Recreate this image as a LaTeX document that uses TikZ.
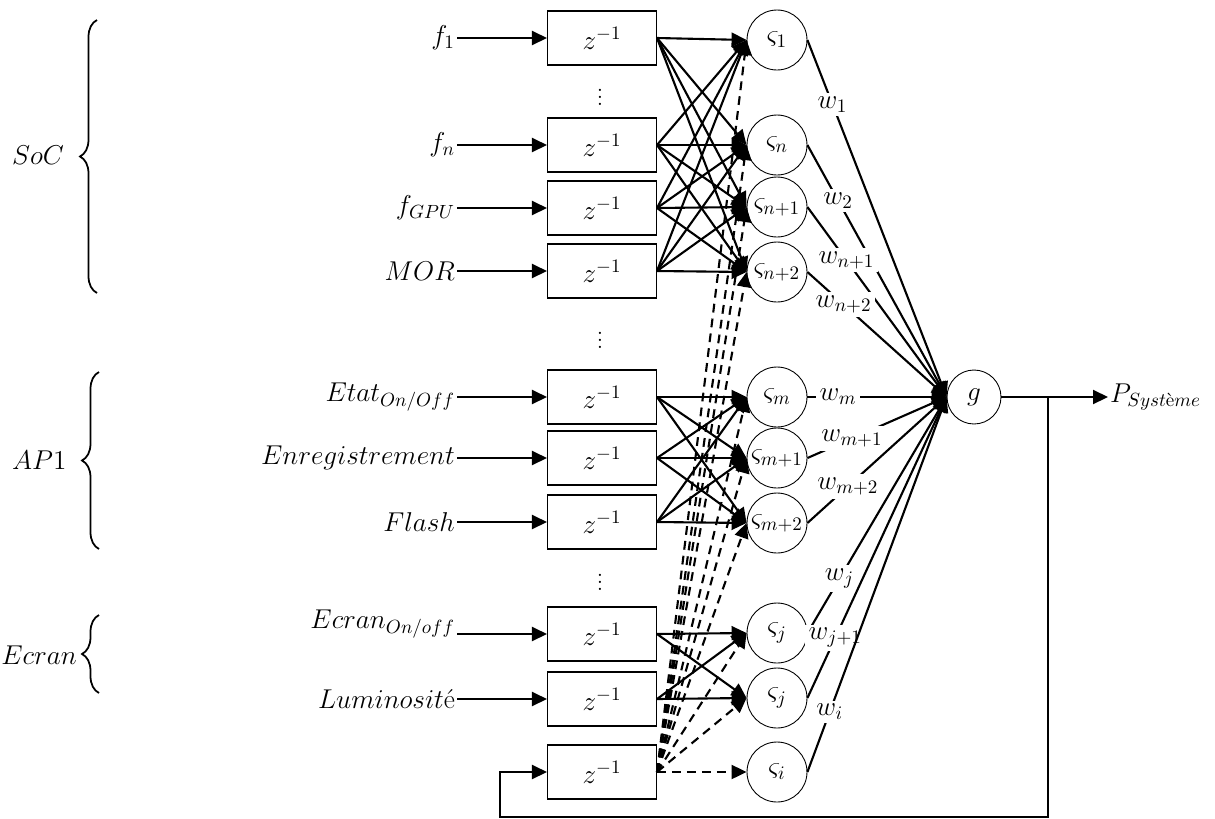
\RequirePackage{fix-cm}
\documentclass[tikz,border=0pt]{standalone}
\usepackage{amsmath}
\usepackage{tikz}
\usetikzlibrary{arrows.meta,decorations.pathreplacing}

\begin{document}
\begin{tikzpicture}[x=0.02cm, y=-0.02cm,
    every node/.style={font=\fontsize{15.5}{18}\selectfont},
    delay/.style={rectangle, draw, line width=0.6pt, minimum width=2.18cm, minimum height=1.08cm},
    neuron/.style={circle, draw, line width=0.5pt, minimum size=1.2cm, inner sep=0pt},
    inlbl/.style={anchor=east, inner sep=1pt},
    dots/.style={inner sep=0pt},
    link/.style={line width=1.2pt, -{Triangle[length=0.3cm, width=0.28cm]}},
    fb/.style={link, dash pattern=on 5pt off 3.5pt},
    wlbl/.style={fill=white, inner sep=2pt},
    grp/.style={line width=1pt, decorate, decoration={brace, amplitude=0.34cm}}
]
    \useasboundingbox (0,0) rectangle (1215,819);

    % Inputs
    \node[inlbl] (f1) at (457,38) {$f_1$};
    \node[inlbl] (fn) at (457,145) {$f_n$};
    \node[inlbl] (fg) at (457,208) {$f_{GPU}$};
    \node[inlbl] (mor) at (457,271) {$MOR$};
    \node[inlbl] (etat) at (457,397) {$Etat_{On/Off}$};
    \node[inlbl] (enr) at (457,458) {$Enregistrement$};
    \node[inlbl] (fla) at (457,522) {$Flash$};
    \node[inlbl] (ecr) at (457,624) {$Ecran_{On/off}$};
    \node[inlbl] (lum) at (457,699) {$Luminosit\text{é}$};

    % Delays
    \node[delay] (z1) at (602,38) {$z^{-1}$};
    \node[delay] (z2) at (602,145) {$z^{-1}$};
    \node[delay] (z3) at (602,208) {$z^{-1}$};
    \node[delay] (z4) at (602,271) {$z^{-1}$};
    \node[delay] (z5) at (602,397) {$z^{-1}$};
    \node[delay] (z6) at (602,458) {$z^{-1}$};
    \node[delay] (z7) at (602,522) {$z^{-1}$};
    \node[delay] (z8) at (602,634) {$z^{-1}$};
    \node[delay] (z9) at (602,699) {$z^{-1}$};
    \node[delay] (z10) at (602,772) {$z^{-1}$};
    \node[dots] (d1) at (600,92) {$\vdots$};
    \node[dots] (d2) at (600,335) {$\vdots$};
    \node[dots] (d3) at (600,577) {$\vdots$};

    % Hidden neurons
    \node[neuron] (s1) at (777,40) {$\varsigma_1$};
    \node[neuron] (s2) at (777,145) {$\varsigma_n$};
    \node[neuron] (s3) at (777,207) {$\varsigma_{n+1}$};
    \node[neuron] (s4) at (777,272) {$\varsigma_{n+2}$};
    \node[neuron] (s5) at (777,397) {$\varsigma_m$};
    \node[neuron] (s6) at (777,458) {$\varsigma_{m+1}$};
    \node[neuron] (s7) at (777,523) {$\varsigma_{m+2}$};
    \node[neuron] (s8) at (777,633) {$\varsigma_j$};
    \node[neuron] (s9) at (777,698) {$\varsigma_j$};
    \node[neuron] (s10) at (777,772) {$\varsigma_i$};

    % Output
    \node[neuron, minimum size=1.08cm] (g) at (974,397) {$g$};
    \node[anchor=west, inner sep=1pt] (out) at (1108,397) {$P_{Syst\text{è}me}$};
    \coordinate (split) at (1048,397);
    \coordinate (fbr) at (1048,817);
    \coordinate (fbl) at (500,817);

    % Groups
    \node[anchor=west] (soc) at (6,155) {$SoC$};
    \node[anchor=west] (ap) at (6,460) {$AP1$};
    \node[anchor=east, inner sep=1pt] (scr) at (79,655) {$Ecran$};
    \draw[grp] (97,293) -- (97,20);
    \draw[grp] (99,549) -- (99,372);
    \draw[grp] (99,693) -- (99,615);

    % Links
    \draw[link] (f1) -- (z1);
    \draw[link] (fn) -- (z2);
    \draw[link] (fg) -- (z3);
    \draw[link] (mor) -- (z4);
    \draw[link] (etat) -- (z5);
    \draw[link] (enr) -- (z6);
    \draw[link] (fla) -- (z7);
    \draw[link] (ecr.east |- z8) -- (z8);
    \draw[link] (lum) -- (z9);
    \foreach \a in {1,...,4}
        \foreach \b in {1,...,4}
            \draw[link] (z\a.east) -- (s\b.west);
    \foreach \a in {5,6,7}
        \foreach \b in {5,6,7}
            \draw[link] (z\a.east) -- (s\b.west);
    \foreach \a in {8,9}
        \foreach \b in {8,9}
            \draw[link] (z\a.east) -- (s\b.west);
    \foreach \b in {1,...,10}
        \draw[fb] (z10.east) -- (s\b.west);

    % Weights
    \draw[link] (s1.east) -- node[wlbl, pos=0.18] {$w_1$} (g.west);
    \draw[link] (s2.east) -- node[wlbl, pos=0.22] {$w_2$} (g.west);
    \draw[link] (s3.east) -- node[wlbl, pos=0.28] {$w_{n+1}$} (g.west);
    \draw[link] (s4.east) -- node[wlbl, pos=0.26] {$w_{n+2}$} (g.west);
    \draw[link] (s5.east) -- node[wlbl, pos=0.22] {$w_m$} (g.west);
    \draw[link] (s6.east) -- node[wlbl, pos=0.32] {$w_{m+1}$} (g.west);
    \draw[link] (s7.east) -- node[wlbl, pos=0.29] {$w_{m+2}$} (g.west);
    \draw[link] (s8.east) -- node[wlbl, pos=0.23] {$w_j$} (g.west);
    \draw[link] (s9.east) -- node[wlbl, pos=0.2] {$w_{j+1}$} (g.west);
    \draw[link] (s10.east) -- node[wlbl, pos=0.16] {$w_i$} (g.west);

    % Output and feedback
    \draw[link] (g) -- (out);
    \draw[link] (split) -- (fbr) -- (fbl) |- (z10.west);
\end{tikzpicture}
\end{document}
